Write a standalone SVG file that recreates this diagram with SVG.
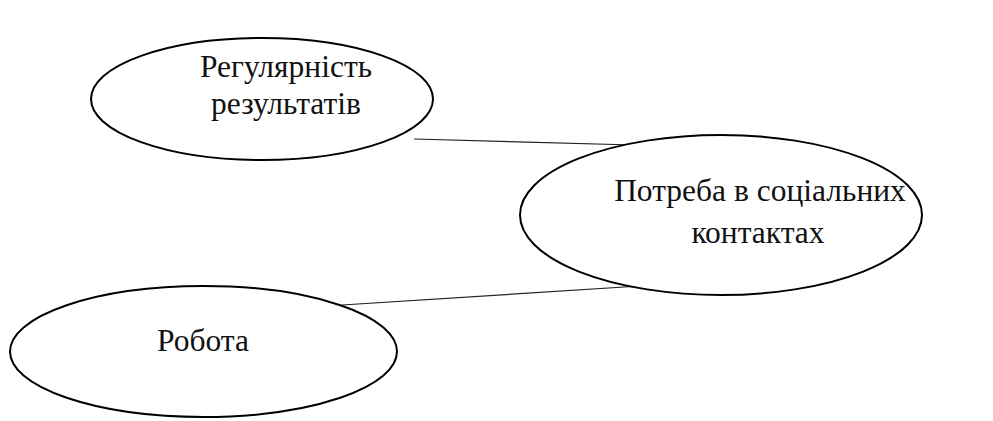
<svg xmlns="http://www.w3.org/2000/svg" width="993" height="421" viewBox="0 0 993 421">
<style>
.n{fill:#fff;stroke:#000;stroke-width:2}
.t{font-size:31.5px;fill:#111;text-anchor:middle}
.c{stroke:#222;stroke-width:1.2;fill:none}
</style>
<rect width="993" height="421" fill="#fff"/>
<g id="connectors">
<line class="c" x1="414" y1="139" x2="634" y2="145"/>
<line class="c" x1="342" y1="305" x2="640" y2="286"/>
</g>
<g id="node-regularity" font-family="Liberation Serif, serif">
<ellipse class="n" cx="262" cy="99" rx="171" ry="61"/>
<text class="t" x="286" y="77">Регулярність</text>
<text class="t" x="286" y="114">результатів</text>
</g>
<g id="node-social" font-family="Liberation Serif, serif">
<ellipse class="n" cx="721" cy="215" rx="201" ry="80"/>
<text class="t" x="760" y="201">Потреба в соціальних</text>
<text class="t" x="758" y="243">контактах</text>
</g>
<g id="node-work" font-family="Liberation Serif, serif">
<ellipse class="n" cx="203.5" cy="351.5" rx="193.5" ry="65.5"/>
<text class="t" x="203" y="351">Робота</text>
</g>
</svg>
